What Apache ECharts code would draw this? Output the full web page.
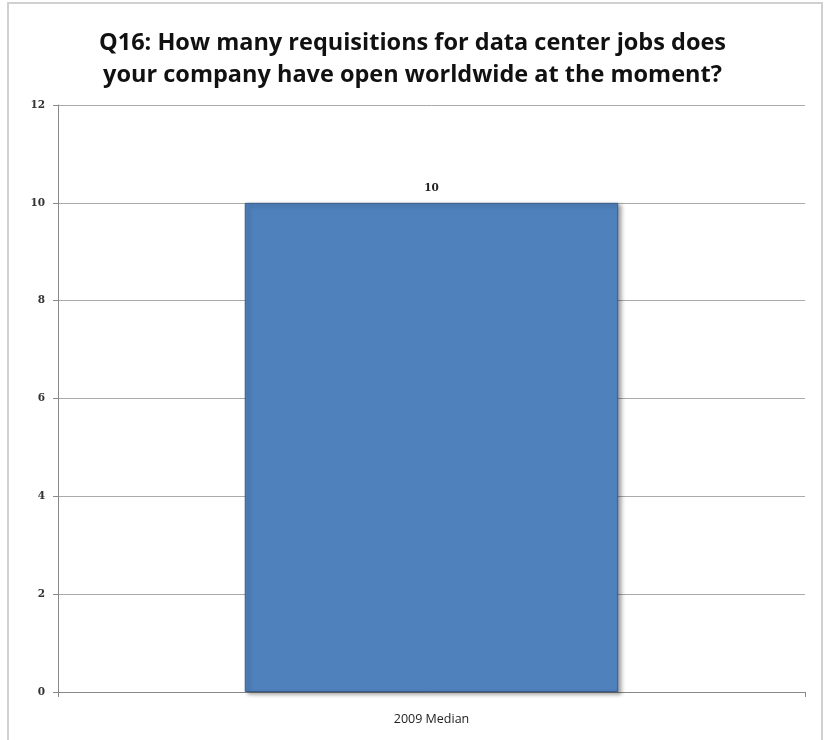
<!DOCTYPE html>
<html><head><meta charset="utf-8">
<script src="https://cdn.jsdelivr.net/npm/echarts@6/dist/echarts.min.js"></script>
<style>html,body{margin:0;padding:0;background:#fff}#c{width:825px;height:740px}</style>
</head><body><div id="c"></div>
<script>
const titleText = 'Q16: How many requisitions for data center jobs does\nyour company have open worldwide at the moment?';
const categories = ['2009 Median'];
const values = [10];
const yTicks = {min: 0, max: 12, interval: 2};

const chart = echarts.init(document.getElementById('c'));
chart.setOption({
  backgroundColor: '#fff',
  animation: false,
  graphic: [{type: 'rect', shape: {x: 8, y: 3, width: 814, height: 745}, style: {fill: 'none', stroke: '#d0d0d0', lineWidth: 2}, silent: true}],
  title: {
    text: titleText, left: 'center', top: 22,
    textStyle: {fontFamily: 'Open Sans', fontWeight: 'bold', fontSize: 23.5, lineHeight: 32, color: '#111'}
  },
  grid: {left: 58, right: 20, top: 105, bottom: 48, containLabel: false},
  xAxis: {
    type: 'category', data: categories,
    axisLine: {lineStyle: {color: '#888', width: 1}},
    axisTick: {show: true, length: 5, lineStyle: {color: '#888'}},
    axisLabel: {fontFamily: 'Liberation Sans Narrow, Open Sans', fontSize: 12.5, color: '#222', margin: 21}
  },
  yAxis: {
    type: 'value', min: yTicks.min, max: yTicks.max, interval: yTicks.interval,
    axisLine: {show: true, lineStyle: {color: '#888'}},
    axisTick: {show: true, length: 5, lineStyle: {color: '#888'}},
    splitLine: {lineStyle: {color: '#aaa'}},
    axisLabel: {fontFamily: 'DejaVu Serif', fontWeight: 'bold', fontSize: 10.5, color: '#333', margin: 13}
  },
  series: [{
    type: 'bar', data: values, barWidth: '50%',
    itemStyle: {color: '#4F81BD', borderColor: '#385D8A', borderWidth: 1, shadowColor: 'rgba(0,0,0,0.35)', shadowBlur: 4, shadowOffsetX: 3, shadowOffsetY: 2},
    label: {show: true, position: 'top', distance: 9, fontFamily: 'DejaVu Serif', fontWeight: 'bold', fontSize: 10.5, color: '#222'}
  }]
});
</script></body></html>
